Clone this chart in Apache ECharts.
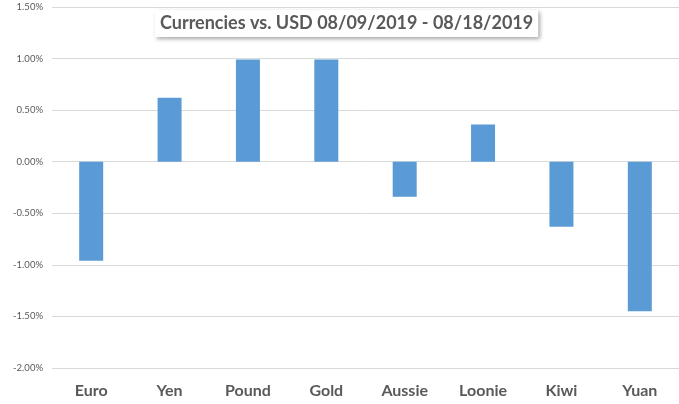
<!DOCTYPE html>
<html lang="en">
<head>
    <meta charset="UTF-8">
    <title>Currencies vs. USD</title>
    <style>
        html, body { margin: 0; padding: 0; background: #fff; }
        #chart { width: 679px; height: 404px; }
    </style>
</head>
<body>
<div id="chart"></div>
<script src="https://cdn.jsdelivr.net/npm/echarts@6/dist/echarts.min.js"></script>
<script type="text/javascript">
    // values, in percent
    var currencies = ['Euro', 'Yen', 'Pound', 'Gold', 'Aussie', 'Loonie', 'Kiwi', 'Yuan'];
    var changes = [-0.96, 0.62, 0.99, 0.99, -0.34, 0.36, -0.63, -1.45];
    var yTicks = [-2.0, -1.5, -1.0, -0.5, 0.0, 0.5, 1.0, 1.5];

    var mychart = echarts.init(document.getElementById('chart'));
    var option = {
        animation: false,
        title: {
            text: 'Currencies vs. USD 08/09/2019 - 08/18/2019',
            left: 155,
            top: 10,
            padding: [3, 5, 3, 5],
            backgroundColor: '#fff',
            shadowColor: 'rgba(0,0,0,0.35)',
            shadowBlur: 4,
            shadowOffsetX: 2,
            shadowOffsetY: 2,
            textStyle: {
                fontFamily: 'Lato',
                fontWeight: 'bold',
                fontSize: 18,
                lineHeight: 21,
                color: '#595959'
            }
        },
        grid: {
            left: 52,
            top: 7,
            width: 628,
            bottom: 36
        },
        xAxis: {
            type: 'category',
            data: currencies,
            axisLine: { show: false, onZero: false },
            axisTick: { show: false },
            axisLabel: {
                margin: 15,
                fontFamily: 'Lato',
                fontWeight: 'bold',
                fontSize: 16,
                color: '#595959'
            }
        },
        yAxis: {
            type: 'value',
            min: yTicks[0],
            max: yTicks[yTicks.length - 1],
            interval: 0.5,
            axisLine: { show: false },
            axisTick: { show: false },
            splitLine: { lineStyle: { color: '#d9d9d9', width: 1 } },
            axisLabel: {
                margin: 9,
                fontFamily: 'Lato',
                fontSize: 9.5,
                color: '#595959',
                formatter: function (v) { return v.toFixed(2) + '%'; }
            }
        },
        series: [{
            type: 'bar',
            data: changes,
            barWidth: 24,
            itemStyle: { color: '#5b9bd5' }
        }]
    };
    mychart.setOption(option);
</script>
</body>
</html>
